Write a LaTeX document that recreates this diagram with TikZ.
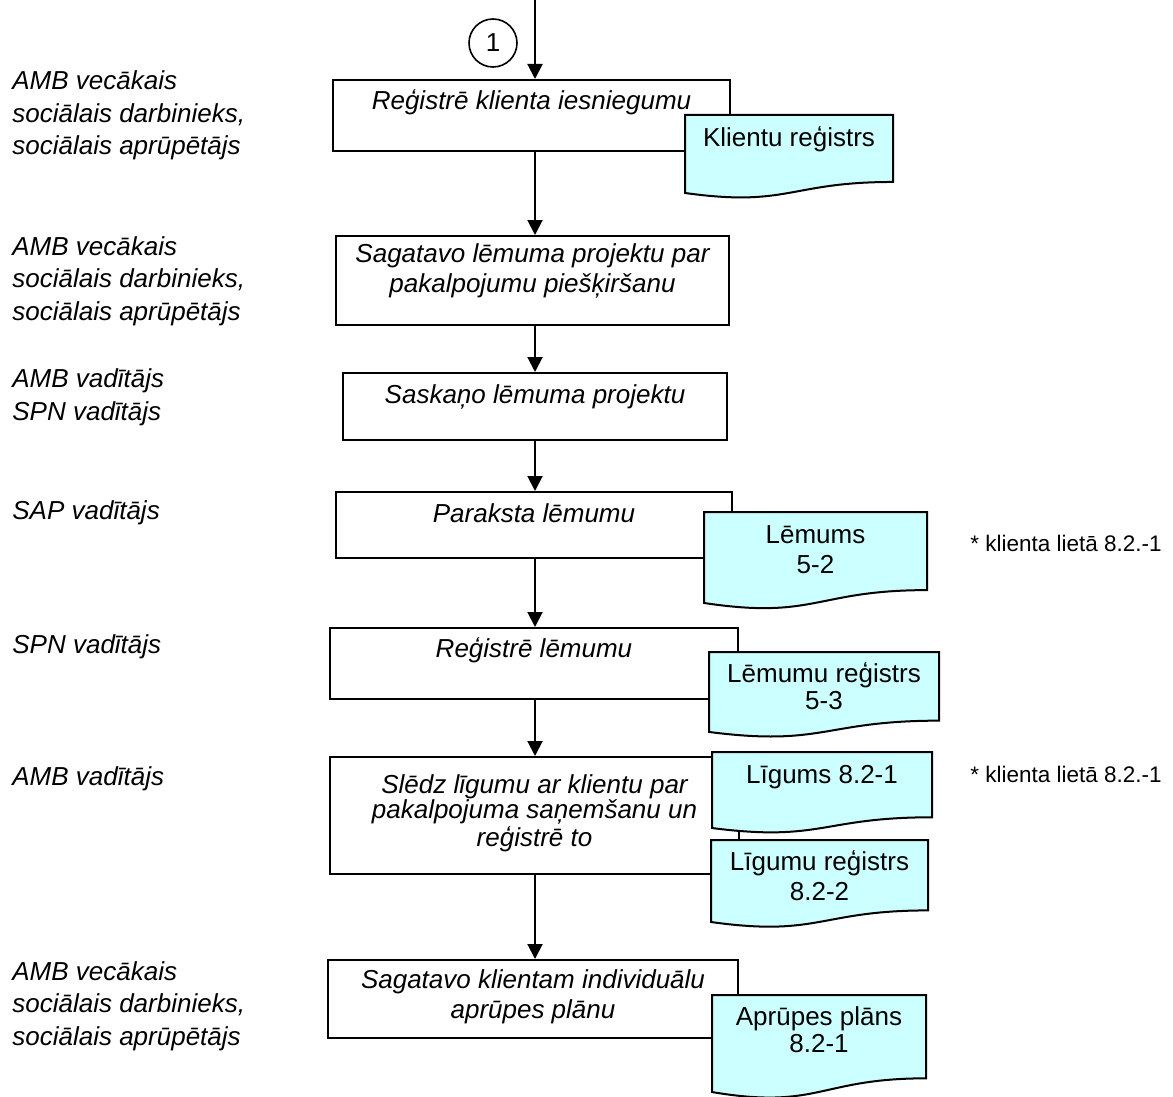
\documentclass[tikz,border=0pt]{standalone}
\usepackage{fontspec}
\setmainfont{Liberation Sans}
\usetikzlibrary{arrows.meta}
\definecolor{docfill}{RGB}{204,255,255}

% process box: name, centre x, centre y, width, height (drawing units)
\newcommand\procbox[5]{%
  \node[procstyle, minimum width={#4*0.5pt}, minimum height={#5*0.5pt}] (#1) at (#2,#3) {};}
% document symbol with wavy lower edge: left, top, width, height
\newcommand\docshape[4]{%
  \filldraw[docstyle] (#1,#2) -- ({#1+#3},#2) -- ({#1+#3},{#2+0.802*#4})
    .. controls ({#1+0.5*#3},{#2+0.802*#4}) and ({#1+0.5*#3},{#2+1.107*#4}) .. (#1,{#2+0.934*#4}) -- cycle;}

% text nodes are placed at the baseline of their last line
\tikzset{
  procstyle/.style={draw, rectangle, line width=1pt, fill=white, inner sep=0pt},
  docstyle/.style={draw=black, fill=docfill, line width=1pt},
  flow/.style={line width=1pt, -{Triangle[length=7.5pt,width=7.5pt]}},
  proctext/.style={anchor=base, inner sep=0pt, align=center,
    font=\fontsize{13}{15}\selectfont\itshape},
  doctext/.style={anchor=base, inner sep=0pt, align=center,
    font=\fontsize{13}{15}\selectfont},
  roletext/.style={anchor=base west, inner sep=0pt, align=left,
    font=\fontsize{13}{16.25}\selectfont\itshape},
  notetext/.style={anchor=base west, inner sep=0pt,
    font=\fontsize{11.25}{13}\selectfont},
}

\begin{document}
\begin{tikzpicture}[x=0.5pt, y=-0.5pt]
  \fill[white] (0,0) rectangle (1173,1097);
  \useasboundingbox (0,0) rectangle (1173,1097);

  % connector entry
  \coordinate (top) at (535,0);
  \node[draw, circle, line width=0.8pt, minimum size=24pt, inner sep=0pt,
        font=\fontsize{13}{15}\selectfont] (c1) at (493,43) {1};

  % roles
  \node[roletext] (r1) at (12,155) {AMB vecākais\\sociālais darbinieks,\\sociālais aprūpētājs};
  \node[roletext] (r2) at (12,320) {AMB vecākais\\sociālais darbinieks,\\sociālais aprūpētājs};
  \node[roletext] (r3) at (12,420) {AMB vadītājs\\SPN vadītājs};
  \node[roletext] (r4) at (12,519) {SAP vadītājs};
  \node[roletext] (r5) at (12,653) {SPN vadītājs};
  \node[roletext] (r6) at (12,785) {AMB vadītājs};
  \node[roletext] (r7) at (12,1045) {AMB vecākais\\sociālais darbinieks,\\sociālais aprūpētājs};

  % process steps
  \procbox{b1}{531.5}{115.5}{397}{71}
  \procbox{b2}{532.5}{280.5}{393}{89}
  \procbox{b3}{535}{406.5}{384}{67}
  \procbox{b4}{534}{525}{396}{66}
  \procbox{b5}{534}{663.5}{408}{71}
  \procbox{b6}{534.5}{815.5}{409}{117}
  \procbox{b7}{533}{999}{410}{78}

  \node[proctext] (t1) at (531.5,110) {Reģistrē klienta iesniegumu};
  \node[proctext] (t2) at (532.5,292) {Sagatavo lēmuma projektu par\\pakalpojumu piešķiršanu};
  \node[proctext] (t3) at (535,403) {Saskaņo lēmuma projektu};
  \node[proctext] (t4) at (534,522) {Paraksta lēmumu};
  \node[proctext] (t5) at (534,657) {Reģistrē lēmumu};
  \node[proctext, font=\fontsize{13}{12.5}\selectfont\itshape] (t6) at (534.5,846)
    {Slēdz līgumu ar klientu par\\pakalpojuma saņemšanu un\\reģistrē to};
  \node[proctext] (t7) at (533,1018) {Sagatavo klientam individuālu\\aprūpes plānu};

  % flow
  \draw[flow] (top) -- (b1.north -| top);
  \draw[flow] (b1.south -| top) -- (b2.north -| top);
  \draw[flow] (b2.south -| top) -- (b3.north -| top);
  \draw[flow] (b3.south -| top) -- (b4.north -| top);
  \draw[flow] (b4.south -| top) -- (b5.north -| top);
  \draw[flow] (b5.south -| top) -- (b6.north -| top);
  \draw[flow] (b6.south -| top) -- (b7.north -| top);

  % documents
  \docshape{685}{115}{208}{83.5}
  \node[doctext] (d1) at (789,147) {Klientu reģistrs};
  \docshape{704}{512}{223}{97.4}
  \node[doctext] (d2) at (815.5,573) {Lēmums\\5-2};
  \docshape{709}{652}{230}{85.6}
  \node[doctext, font=\fontsize{13}{13.5}\selectfont] (d3) at (824,709) {Lēmumu reģistrs\\5-3};
  \docshape{712}{752}{220}{81.4}
  \node[doctext] (d4) at (822,783) {Līgums 8.2-1};
  \docshape{711}{840}{217}{87.8}
  \node[doctext] (d5) at (819.5,900) {Līgumu reģistrs\\8.2-2};
  \docshape{712}{995}{214}{103.9}
  \node[doctext, font=\fontsize{13}{13.5}\selectfont] (d6) at (819,1052) {Aprūpes plāns\\8.2-1};

  % notes
  \node[notetext] (n1) at (970,551) {* klienta lietā 8.2.-1};
  \node[notetext] (n2) at (970,782) {* klienta lietā 8.2.-1};
\end{tikzpicture}
\end{document}
